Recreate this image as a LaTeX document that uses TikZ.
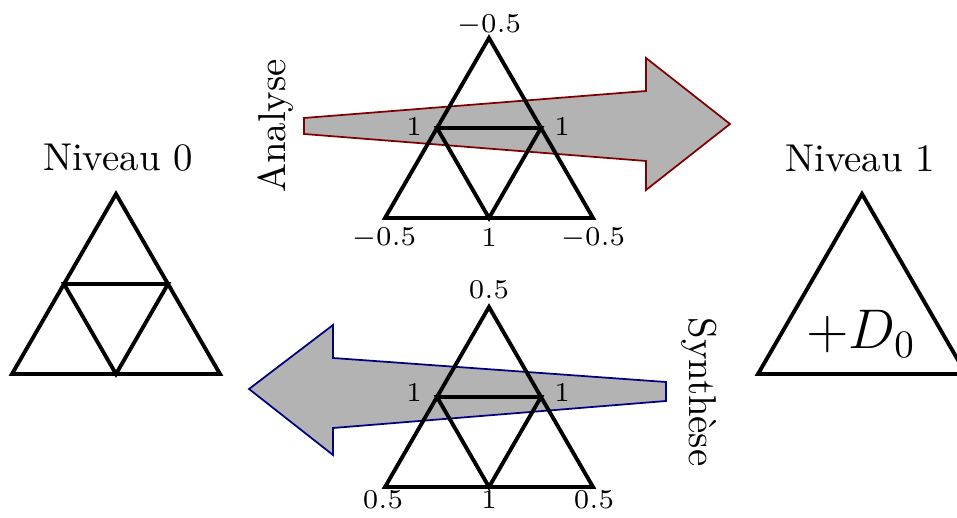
\documentclass[tikz,border=0pt]{standalone}
\usetikzlibrary{positioning,calc}
\definecolor{anaEdge}{HTML}{800000}
\definecolor{synEdge}{HTML}{000080}
\definecolor{arrFill}{HTML}{B3B3B3}
\tikzset{
  tri/.style={line width=1pt,line join=miter},
  bigarr/.style={fill=arrFill,line width=0.45pt,line join=miter},
  lvl/.style={font=\normalsize,inner sep=0pt},
  wlab/.style={font=\scriptsize,inner sep=0pt},
  sidelab/.style={font=\normalsize,inner sep=0pt}}
\begin{document}
\begin{tikzpicture}[x=0.2577pt,y=-0.2577pt]
\useasboundingbox (0,0) rectangle (957,518);
% block arrows
\draw[bigarr,draw=anaEdge] (304,118) -- (646,91) -- (646,58) -- (730,124) -- (646,190) -- (646,161) -- (304,134) -- cycle;
\draw[bigarr,draw=synEdge] (666,382) -- (333,358) -- (333,325) -- (249,389) -- (333,455) -- (333,428) -- (666,401) -- cycle;
% niveau 0
\coordinate (a0) at (116,194);\coordinate (b0) at (12,374);\coordinate (c0) at (220,374);
\draw[tri] (a0) -- (b0) -- (c0) -- cycle;
\draw[tri] ($(a0)!0.5!(b0)$) -- ($(a0)!0.5!(c0)$) -- ($(b0)!0.5!(c0)$) -- cycle;
\node[lvl] (niv0) at (118,158) {Niveau 0};
% niveau 1
\coordinate (a1) at (862,194);\coordinate (b1) at (758,374);\coordinate (c1) at (966,374);
\draw[tri] (a1) -- (b1) -- (c1) -- cycle;
\node[lvl] (niv1) at (860,158) {Niveau 1};
\node[font=\Large,inner sep=0pt] (d0) at (861,334) {$+D_0$};
% analyse
\coordinate (aa) at (489,38);\coordinate (ab) at (385,218);\coordinate (ac) at (593,218);
\draw[tri] (aa) -- (ab) -- (ac) -- cycle;
\draw[tri] ($(aa)!0.5!(ab)$) -- ($(aa)!0.5!(ac)$) -- ($(ab)!0.5!(ac)$) -- cycle;
\node[wlab] (anaTop) at (489,25) {$-0.5$};
\node[wlab] (anaL) at (414,127) {$1$};
\node[wlab] (anaR) at (562,127) {$1$};
\node[wlab] (anaBL) at (384,238) {$-0.5$};
\node[wlab] (anaBM) at (489,238) {$1$};
\node[wlab] (anaBR) at (593,238) {$-0.5$};
\node[sidelab,rotate=90] (ana) at (276,126) {Analyse};
% synthese
\coordinate (sa) at (489,307);\coordinate (sb) at (385,487);\coordinate (sc) at (593,487);
\draw[tri] (sa) -- (sb) -- (sc) -- cycle;
\draw[tri] ($(sa)!0.5!(sb)$) -- ($(sa)!0.5!(sc)$) -- ($(sb)!0.5!(sc)$) -- cycle;
\node[wlab] (synTop) at (489,290) {$0.5$};
\node[wlab] (synL) at (414,393) {$1$};
\node[wlab] (synR) at (562,393) {$1$};
\node[wlab] (synBL) at (383,500) {$0.5$};
\node[wlab] (synBM) at (489,500) {$1$};
\node[wlab] (synBR) at (594,500) {$0.5$};
\node[sidelab,rotate=-90] (syn) at (699,392) {Synthèse};
\end{tikzpicture}
\end{document}
